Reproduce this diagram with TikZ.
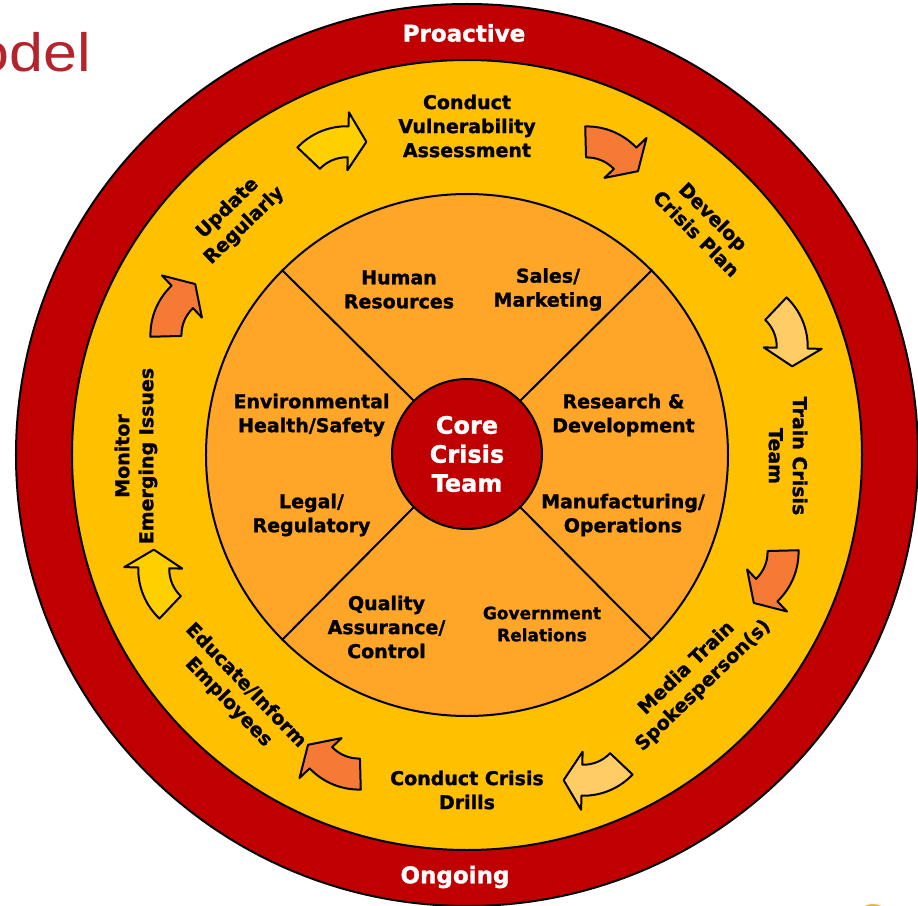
\documentclass[tikz,border=0pt]{standalone}
\usepackage{fontspec}
\setmainfont{DejaVu Sans}[BoldFeatures={FakeBold=1.3}]
\newfontfamily\titlefont{Liberation Sans}
\definecolor{ringred}{HTML}{C00000}
\definecolor{ringyel}{HTML}{FFC000}
\definecolor{innerorg}{HTML}{FFA629}
\definecolor{arrorg}{HTML}{F47A36}
\definecolor{arrlight}{HTML}{FFCC66}
\definecolor{arryel}{HTML}{FFD000}
\definecolor{titlered}{HTML}{B3242C}
\definecolor{logoorg}{HTML}{F8B040}
\tikzset{
  ringline/.style={draw=black, line width=2pt},
  lab/.style={font=\bfseries\fontsize{19}{24}\selectfont, align=center, inner sep=0pt, text=black},
  smalllab/.style={font=\bfseries\fontsize{17}{22}\selectfont, align=center, inner sep=0pt, text=black},
  whitelab/.style={font=\bfseries\fontsize{23}{29}\selectfont, align=center, inner sep=0pt, text=white},
  corelab/.style={font=\bfseries\fontsize{24}{29}\selectfont, align=center, inner sep=0pt, text=white},
  blockarrow/.style={draw=black, line width=2pt, line join=round},
}
\newcommand\cyclearrow[4]{%
  \begin{scope}[shift={(#1,#2)}, rotate=#3, shift={(-5,-48)}]
    \draw[blockarrow, fill=#4] (114:68) arc[start angle=114, end angle=66, radius=68]
      -- (66:82) -- (47:56) -- (66:24) -- (66:37)
      arc[start angle=66, end angle=114, radius=37] -- cycle;
  \end{scope}}
\begin{document}
\begin{tikzpicture}[x=1pt,y=1pt]
\useasboundingbox (-467,-450) rectangle (451,455);
\clip (-467,-450) rectangle (451,455);
% partial title
\node[anchor=base east, inner sep=0pt, text=titlered, font=\titlefont\fontsize{54}{60}\selectfont, xscale=1.13] (title) at (-375.5,383) {odel};
% rings
\node[circle, ringline, fill=ringred, minimum size=902pt, inner sep=0pt] (outer) at (0,0) {};
\node[circle, ringline, fill=ringyel, minimum size=790pt, inner sep=0pt] (middle) at (0,0) {};
\node[circle, ringline, fill=innerorg, minimum size=522pt, inner sep=0pt] (inner) at (0,0) {};
\node[circle, ringline, fill=ringred, minimum size=150pt, inner sep=0pt] (core) at (0,1) {};
\foreach \a in {45,135,225,315} \draw[ringline] (core.\a) -- (inner.\a);
\node[corelab] (coretext) at (0,1) {Core\\Crisis\\Team};
% ring words
\node[whitelab] (proactive) at (-3,422) {Proactive};
\node[whitelab] (ongoing) at (-12,-422) {Ongoing};
% inner sectors
\node[lab] (hr) at (-68,165.5) {Human\\Resources};
\node[lab] (sales) at (81,165.5) {Sales/\\Marketing};
\node[lab] (env) at (-155.5,40) {Environmental\\Health/Safety};
\node[lab] (rd) at (156.5,40) {Research \&\\Development};
\node[lab] (legal) at (-155.5,-60) {Legal/\\Regulatory};
\node[lab] (manu) at (156,-60) {Manufacturing/\\Operations};
\node[lab] (qa) at (-80.5,-172) {Quality\\Assurance/\\Control};
\node[smalllab] (gov) at (75,-169) {Government\\Relations};
% cycle steps
\node[lab] (s1) at (0,329) {Conduct\\Vulnerability\\Assessment};
\node[lab, rotate=-45] (s2) at (238,230) {Develop\\Crisis Plan};
\node[lab, rotate=-90] (s3) at (321,-1) {Train Crisis\\Team};
\node[lab, rotate=44] (s4) at (228,-222) {Media Train\\Spokesperson(s)};
\node[lab] (s5) at (0,-335) {Conduct Crisis\\Drills};
\node[lab, rotate=-46] (s6) at (-230,-239) {Educate/Inform\\Employees};
\node[lab, rotate=90] (s7) at (-331,-1) {Monitor\\Emerging Issues};
\node[lab, rotate=44] (s8) at (-231,238) {Update\\Regularly};
% arrows
\cyclearrow{-134}{307}{22.5}{arryel}
\cyclearrow{143}{303}{-22.5}{arrorg}
\cyclearrow{319}{122}{-67.5}{arrlight}
\cyclearrow{306}{-120}{-112.5}{arrorg}
\cyclearrow{130}{-319}{-157.5}{arrlight}
\cyclearrow{-131}{-309}{-202.5}{arrorg}
\cyclearrow{-307}{-128}{-247.5}{arryel}
\cyclearrow{-291}{143}{67.5}{arrorg}
% logo fragment
\fill[logoorg] (406,-455) ellipse[x radius=11, y radius=6];
\end{tikzpicture}
\end{document}
